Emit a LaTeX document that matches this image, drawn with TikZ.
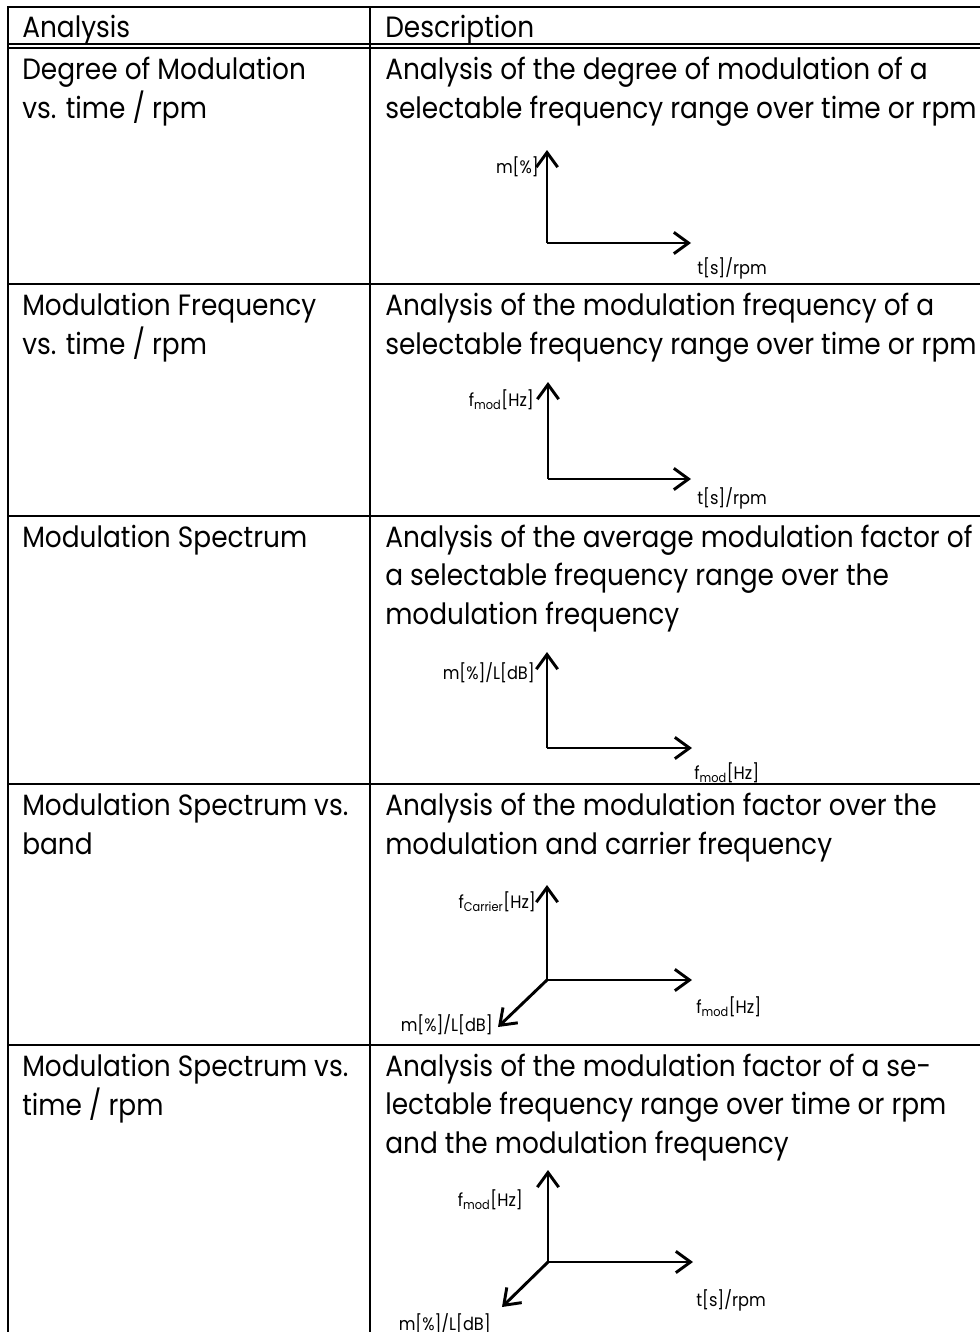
\documentclass[tikz,border=0pt]{standalone}
\usepackage{fontspec}
\setmainfont{Poppins}[FakeStretch=0.9]
\usetikzlibrary{arrows.meta}

\tikzset{
  cell/.style={anchor=base west, inner sep=0pt, align=left,
    font=\fontsize{22}{28.9}\selectfont},
  axlab/.style={inner sep=0pt, font=\fontsize{13.5}{15}\selectfont},
  rule/.style={line width=1.6pt},
  axis/.style={line width=2.2pt, -{Straight Barb[length=11pt,width=16pt]}}
}

\begin{document}
\begin{tikzpicture}[x=0.75pt,y=-0.75pt]
\useasboundingbox (0,0) rectangle (980,1332);

% table frame
\draw[rule] (980,7) -- (8,7) -- (8,1340);
\draw[rule] (370,7) -- (370,1340);
\draw[line width=1.1pt] (8,44) -- (980,44);
\draw[line width=1.1pt] (8,48) -- (980,48);
\draw[rule] (8,284) -- (980,284);
\draw[rule] (8,516) -- (980,516);
\draw[rule] (8,784) -- (980,784);
\draw[rule] (8,1045) -- (980,1045);

% header (base = last line)
\node[cell] (hA) at (22,37) {Analysis};
\node[cell] (hD) at (385,37) {Description};

% row 1
\node[cell] (a1) at (22,118) {Degree of Modulation\\vs. time / rpm};
\node[cell] (d1) at (385,118) {Analysis of the degree of modulation of a\\selectable frequency range over time or rpm};
\coordinate (o1) at (547,243);
\coordinate (y1) at (547,150);
\coordinate (x1) at (691,243);
\draw[axis] (o1) -- (y1);
\draw[axis] (o1) -- (x1);
\node[axlab, anchor=east] (ly1) at (539,167) {m[\%]};
\node[axlab, anchor=west] (lx1) at (697,268) {t[s]/rpm};

% row 2
\node[cell] (a2) at (22,354) {Modulation Frequency\\vs. time / rpm};
\node[cell] (d2) at (385,354) {Analysis of the modulation frequency of a\\selectable frequency range over time or rpm};
\coordinate (o2) at (548,479);
\coordinate (y2) at (548,382);
\coordinate (x2) at (691,479);
\draw[axis] (o2) -- (y2);
\draw[axis] (o2) -- (x2);
\node[axlab, anchor=east] (ly2) at (534,400) {f\textsubscript{mod}[Hz]};
\node[axlab, anchor=west] (lx2) at (697,498) {t[s]/rpm};

% row 3
\node[cell] (a3) at (22,547.5) {Modulation Spectrum};
\node[cell] (d3) at (385,624.5) {Analysis of the average modulation factor of\\a selectable frequency range over the\\modulation frequency};
\coordinate (o3) at (547,748);
\coordinate (y3) at (547,652);
\coordinate (x3) at (692,748);
\draw[axis] (o3) -- (y3);
\draw[axis] (o3) -- (x3);
\node[axlab, anchor=east] (ly3) at (535,673) {m[\%]/L[dB]};
\node[axlab, anchor=west] (lx3) at (694,773) {f\textsubscript{mod}[Hz]};

% row 4
\node[cell] (a4) at (22,854) {Modulation Spectrum vs.\\band};
\node[cell] (d4) at (385,854) {Analysis of the modulation factor over the\\modulation and carrier frequency};
\coordinate (o4) at (547,980);
\coordinate (y4) at (547,885);
\coordinate (x4) at (692,980);
\coordinate (z4) at (498,1027);
\draw[axis] (o4) -- (y4);
\draw[axis] (o4) -- (x4);
\draw[axis] (o4) -- (z4);
\node[axlab, anchor=east] (ly4) at (536,902) {f\textsubscript{Carrier}[Hz]};
\node[axlab, anchor=west] (lx4) at (696,1007) {f\textsubscript{mod}[Hz]};
\node[axlab, anchor=east] (lz4) at (493,1025) {m[\%]/L[dB]};

% row 5
\node[cell] (a5) at (22,1115) {Modulation Spectrum vs.\\time / rpm};
\node[cell] (d5) at (385,1153.5) {Analysis of the modulation factor of a se-\\lectable frequency range over time or rpm\\and the modulation frequency};
\coordinate (o5) at (548,1262);
\coordinate (y5) at (548,1170);
\coordinate (x5) at (693,1262);
\coordinate (z5) at (502,1307);
\draw[axis] (o5) -- (y5);
\draw[axis] (o5) -- (x5);
\draw[axis] (o5) -- (z5);
\node[axlab, anchor=east] (ly5) at (523,1200) {f\textsubscript{mod}[Hz]};
\node[axlab, anchor=west] (lx5) at (696,1300) {t[s]/rpm};
\node[axlab, anchor=east] (lz5) at (491,1324) {m[\%]/L[dB]};

\end{tikzpicture}
\end{document}
